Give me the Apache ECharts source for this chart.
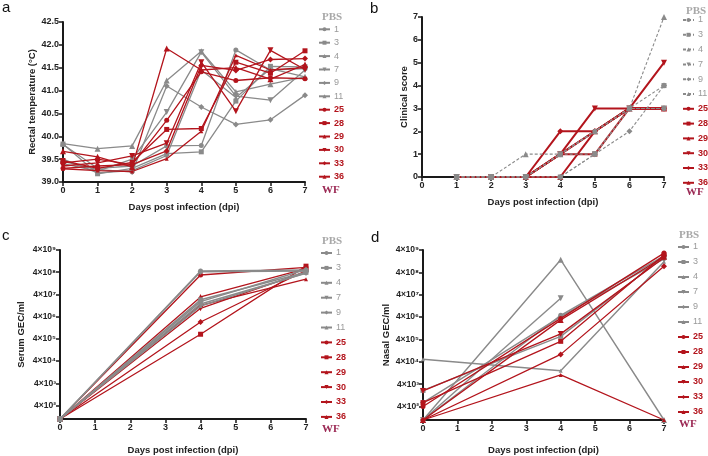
<!DOCTYPE html>
<html><head><meta charset="utf-8">
<script src="https://cdn.jsdelivr.net/npm/echarts@6/dist/echarts.min.js"></script>
<style>html,body{margin:0;padding:0;background:#fff}#c{width:708px;height:456px}</style>
</head><body><div id="c"></div>
<script>
// ---------- data ----------
const pbsNames = ['1','3','4','7','9','11'];
const wfNames  = ['25','28','29','30','33','36'];

// a: rectal temperature, days 0..7
const daysA = [0,1,2,3,4,5,6,7];
const tempPBS = [
  [39.82, 39.30, 39.35, 39.79, 39.80, 41.89, 41.45, 41.48],
  [39.83, 39.18, 39.30, 39.62, 39.66, 40.77, 41.53, 41.52],
  [39.84, 39.73, 39.79, 41.22, 41.86, 40.97, 41.14, 41.30],
  [39.40, 39.24, 39.50, 40.53, 41.84, 40.88, 40.79, 41.45],
  [39.45, 39.27, 39.22, 41.10, 40.64, 40.26, 40.36, 40.90],
  [39.50, 39.20, 39.25, 39.58, 41.45, 40.85, 41.48, 41.30]
];
const tempWF = [
  [39.30, 39.35, 39.38, 40.35, 41.41, 41.22, 41.28, 41.26],
  [39.47, 39.30, 39.43, 40.15, 40.17, 41.62, 41.38, 41.87],
  [39.67, 39.55, 39.33, 41.92, 41.45, 41.50, 41.25, 41.57],
  [39.35, 39.42, 39.57, 39.85, 41.62, 40.55, 41.88, 41.46],
  [39.42, 39.50, 39.38, 39.68, 41.55, 41.44, 41.68, 41.70],
  [39.29, 39.25, 39.23, 39.51, 40.11, 41.77, 41.45, 41.50]
];

// b: clinical score, days 1..7
const daysB = [1,2,3,4,5,6,7];
const scorePBS = [
  [0,0,0,1,2,3,3],
  [0,0,0,0,1,3,4],
  [0,0,1,1,2,3,7],
  [0,0,0,1,1,3,3],
  [0,0,0,0,1,2,4],
  [0,0,0,1,2,3,3]
];
const scoreWF = [
  [0,0,0,1,2,3,3],
  [0,0,0,1,1,3,3],
  [0,0,0,0,2,3,3],
  [0,0,0,1,3,3,5],
  [0,0,0,2,2,3,3],
  [0,0,0,1,2,3,3]
];

// c, d: GEC/ml, days 0, 4, 7
const daysCD = [0,4,7];
const serumPBS = [
  [100, 4.5e8, 5.0e8],
  [100, 2.3e7, 4.0e8],
  [100, 1.9e7, 5.3e8],
  [100, 1.5e7, 3.6e8],
  [100, 4.2e8, 4.5e8],
  [100, 1.2e7, 3.8e8]
];
const serumWF = [
  [100, 3.0e8, 6.6e8],
  [100, 6.5e5, 7.5e8],
  [100, 3.1e7, 5.8e8],
  [100, 9.5e6, 4.2e8],
  [100, 2.3e6, 4.8e8],
  [100, 1.3e7, 1.95e8]
];
const nasalPBS = [
  [100, 4.8e6, 2.2e9],
  [2.1e3, 5.5e5, 2.0e9],
  [100, 1.46e9, 100],
  [100, 2.8e7, null],
  [600, 4.2e6, 1.6e9],
  [5.2e4, 1.6e4, 1.2e9]
];
const nasalWF = [
  [400, 3.5e6, 2.9e9],
  [600, 3.3e5, 2.4e9],
  [100, 3.0e6, 2.0e9],
  [2.0e3, 7.1e5, 1.8e9],
  [100, 8.6e4, 7.5e8],
  [100, 1.04e4, 100]
];

const logTickValues = [4e2,4e3,4e4,4e5,4e6,4e7,4e8,4e9];
const logTickLabels = ['4×10²','4×10³','4×10⁴','4×10⁵','4×10⁶','4×10⁷','4×10⁸','4×10⁹'];

// ---------- styles ----------
const GRAY = '#8a8a8a', RED = '#b3141c';
const FONT = 'Liberation Sans, Arial, sans-serif';
const SYMS = [
  {symbol:'circle', size:5, rot:0},
  {symbol:'rect', size:5, rot:0},
  {symbol:'triangle', size:6, rot:0},
  {symbol:'triangle', size:6, rot:180},
  {symbol:'diamond', size:6, rot:0},
  {symbol:'triangle', size:4, rot:0}
];

const grids = [
  {left:63, top:22, width:242, height:160},
  {left:422, top:17, width:242, height:160},
  {left:60, top:250, width:246, height:174},
  {left:423, top:250, width:241, height:174}
];

function axisCommon(){
  return {
    axisLine:{show:true, onZero:false, lineStyle:{color:'#1a1a1a', width:2}},
    axisTick:{show:true, length:4, lineStyle:{color:'#1a1a1a', width:1.5}},
    axisLabel:{color:'#222', fontWeight:'bold', fontSize:9, fontFamily:FONT, margin:4},
    splitLine:{show:false},
    nameTextStyle:{color:'#222', fontWeight:'bold', fontSize:9.5, fontFamily:FONT},
    nameLocation:'middle'
  };
}
const L4 = Math.log10(4);
const xAxes = [0,1,2,3].map((i)=>{
  const gaps=[20,20,26,25];
  return Object.assign(axisCommon(), {type:'value', gridIndex:i, min:0, max:7, interval:1,
    name:'Days post infection (dpi)', nameGap:gaps[i]});
});
const yAxes = [
  Object.assign(axisCommon(), {type:'value', gridIndex:0, min:39, max:42.5, interval:0.5,
    name:'Rectal temperature (°C)', nameGap:26,
    axisLabel:Object.assign(axisCommon().axisLabel,{formatter:v=>v.toFixed(1)})}),
  Object.assign(axisCommon(), {type:'value', gridIndex:1, min:0, max:7, interval:1,
    name:'Clinical score', nameGap:11}),
  Object.assign(axisCommon(), {type:'value', gridIndex:2, min:2, max:Math.log10(4e9),
    name:'Serum GEC/ml', nameGap:34}),
  Object.assign(axisCommon(), {type:'value', gridIndex:3, min:2, max:Math.log10(4e9),
    name:'Nasal GEC/ml', nameGap:32})
];
[2,3].forEach(i=>{
  const cv = logTickValues.map(v=>Math.log10(v));
  yAxes[i].axisTick = Object.assign(yAxes[i].axisTick, {customValues:cv});
  yAxes[i].axisLabel = Object.assign(axisCommon().axisLabel, {customValues:cv, fontSize:8.5,
    formatter:v=>logTickLabels[Math.round(v - L4) - 2]});
});

const series = [];
function addPanel(p, idx, xs, rows, names, color, opts, tf){
  rows.forEach((row,i)=>{
    const s = SYMS[i];
    const data = [];
    xs.forEach((x,j)=>{ if(row[j]!=null) data.push([x, tf?tf(row[j]):row[j]]); });
    series.push({
      name:p+'_'+names[i], type:'line', xAxisIndex:idx, yAxisIndex:idx,
      data, symbol:s.symbol, symbolSize:s.size, symbolRotate:s.rot, showSymbol:true,
      lineStyle:{color, width:opts.w, type:opts.type||'solid'},
      itemStyle:{color}, emphasis:{disabled:true}, animation:false, z: opts.z||2
    });
  });
}
const lg = v=>Math.log10(v);
addPanel('a',0,daysA,tempPBS,pbsNames,GRAY,{w:1.3});
addPanel('a',0,daysA,tempWF,wfNames,RED,{w:1.3,z:3});
addPanel('b',1,daysB,scorePBS,pbsNames,GRAY,{w:1.1,type:[3,2],z:3});
addPanel('b',1,daysB,scoreWF,wfNames,RED,{w:2});
addPanel('c',2,daysCD,serumPBS,pbsNames,GRAY,{w:1.5,z:3},lg);
addPanel('c',2,daysCD,serumWF,wfNames,RED,{w:1.3},lg);
addPanel('d',3,daysCD,nasalPBS,pbsNames,GRAY,{w:1.4},lg);
addPanel('d',3,daysCD,nasalWF,wfNames,RED,{w:1.3,z:3},lg);

const legPos = [
  {left:318, top:24.8, gap:4.4},
  {left:682, top:15.5, gap:5.8},
  {left:320, top:248.5, gap:5.9},
  {left:677, top:242.5, gap:6.0}
];
const legends = ['a','b','c','d'].map((p,i)=>({
  orient:'vertical', left:legPos[i].left, top:legPos[i].top, itemGap:legPos[i].gap,
  itemWidth:11, itemHeight:5, selectedMode:false, padding:0,
  formatter:n=>n.split('_')[1],
  textStyle:{fontSize:9, fontFamily:FONT, padding:[0,0,0,-1]},
  data: pbsNames.map(n=>({name:p+'_'+n, textStyle:{color:'#999', fontWeight:'normal'}}))
    .concat(wfNames.map(n=>({name:p+'_'+n, textStyle:{color:RED, fontWeight:'bold'}})))
}));

const grpFont = 'bold 11px "Liberation Serif", serif';
const groupLabels = [
  ['PBS',322,12,'#a8a8a8'],['WF',322,185,'#9c2a55'],
  ['PBS',686,6,'#a8a8a8'],['WF',686,187,'#9c2a55'],
  ['PBS',322,236,'#a8a8a8'],['WF',322,424,'#9c2a55'],
  ['PBS',679,230,'#a8a8a8'],['WF',679,419,'#9c2a55']
];
const letters = [['a',2,0],['b',370,1],['c',2,228],['d',371,230]];
const graphic = groupLabels.map(g=>({type:'text', left:g[1], top:g[2],
  style:{text:g[0], font:grpFont, fill:g[3]}}))
  .concat(letters.map(l=>({type:'text', left:l[1], top:l[2],
  style:{text:l[0], font:'15px "Liberation Sans", Arial, sans-serif', fill:'#111'}})));

const chart = echarts.init(document.getElementById('c'), null, {renderer:'canvas'});
chart.setOption({
  animation:false, backgroundColor:'#fff',
  grid:grids, xAxis:xAxes, yAxis:yAxes, series, legend:legends, graphic
});
</script></body></html>
